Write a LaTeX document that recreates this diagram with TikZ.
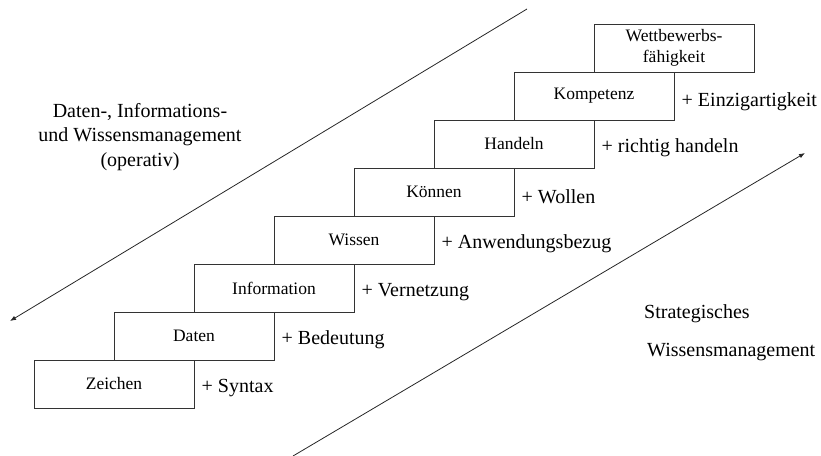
\documentclass[tikz,border=0pt]{standalone}
\usepackage{fontspec}
\setmainfont{Liberation Serif}
\usetikzlibrary{positioning,arrows.meta}

\begin{document}
\begin{tikzpicture}[x=1pt,y=-1pt,
  stair/.style={draw=black!80,line width=1pt,rectangle,minimum width=160pt,minimum height=48pt,inner sep=0pt,font=\fontsize{17.5}{21}\selectfont,align=center},
  gain/.style={inner sep=0pt,text height=18pt,text depth=2pt,font=\fontsize{20}{24.5}\selectfont},
  side/.style={inner sep=0pt,font=\fontsize{20}{24.5}\selectfont},
  trend/.style={draw=black!85,line width=0.8pt,-{Latex[length=6pt,width=4.5pt]}}]
\useasboundingbox (0,0) rectangle (821,455);
% stairs
\node [stair] (zeichen) at (114,384) {Zeichen};
\node [stair] (daten) at (194,336) {Daten};
\node [stair] (information) at (274,288) {Information};
\node [stair] (wissen) at (354,240) {Wissen};
\node [stair] (koennen) at (434,192) {K\"onnen};
\node [stair] (handeln) at (514,144) {Handeln};
\node [stair] (kompetenz) at (594,96) {Kompetenz};
\node [stair] (wettbewerb) at (674,48) {Wettbewerbs-\\f\"ahigkeit};
% gains
\node [gain,right=7pt of zeichen] (syntax) {+ Syntax};
\node [gain,right=7pt of daten] (bedeutung) {+ Bedeutung};
\node [gain,right=7pt of information] (vernetzung) {+ Vernetzung};
\node [gain,right=7pt of wissen] (anwendung) {+ Anwendungsbezug};
\node [gain,right=7pt of koennen,yshift=-3pt] (wollen) {+ Wollen};
\node [gain,right=7pt of handeln] (richtig) {+ richtig handeln};
\node [gain,right=7pt of kompetenz,yshift=-2pt] (einzig) {+ Einzigartigkeit};
% operativ
\node [side,align=center] (operativ) at (140,137) {Daten-, Informations-\\und Wissensmanagement\\(operativ)};
\coordinate (opTop) at (527,9);
\coordinate (opTip) at (10,321);
\draw [trend] (opTop) -- (opTip);
% strategisch
\node [side,anchor=base west] (strat) at (644,318) {Strategisches};
\node [side,anchor=base west] (stratWm) at (647,356) {Wissensmanagement};
\coordinate (stBot) at (293,456);
\coordinate (stTip) at (805,153);
\draw [trend] (stBot) -- (stTip);
\end{tikzpicture}
\end{document}
